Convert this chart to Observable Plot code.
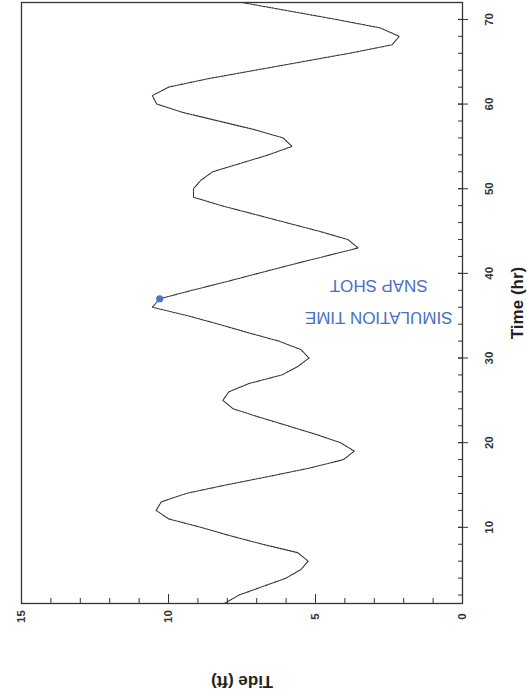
<!DOCTYPE html>
<html>
<head>
<meta charset="utf-8">
<script src="https://cdn.jsdelivr.net/npm/d3@7"></script>
<script src="https://cdn.jsdelivr.net/npm/@observablehq/plot@0.6"></script>
<style>
  html, body { margin: 0; padding: 0; background: #fff; }
  #chart svg { display: block; }
</style>
</head>
<body>
<div id="chart"></div>
<script>
// Time (hr) samples and tide (ft)
const timeHr = [1,2,3,4,5,6,7,8,9,10,11,12,13,14,15,16,17,18,19,20,21,22,23,24,25,26,27,28,29,30,31,32,33,34,35,36,37,38,39,40,41,42,43,44,45,46,47,48,49,50,51,52,53,54,55,56,57,58,59,60,61,62,63,64,65,66,67,68,69,70,71,72];
const tideFt = [8.1,7.6,6.8,6.0,5.5,5.25,5.6,6.8,7.9,8.9,10.0,10.42,10.25,9.4,8.05,6.6,5.2,4.05,3.68,4.15,5.0,5.95,6.9,7.8,8.15,7.95,7.25,6.15,5.6,5.22,5.5,6.25,7.3,8.3,9.35,10.55,10.3,9.2,8.05,6.95,5.85,4.7,3.55,3.9,4.9,6.0,7.1,8.2,9.15,9.15,8.9,8.5,7.55,6.6,5.8,6.1,7.1,8.3,9.5,10.4,10.55,10.0,8.65,7.05,5.45,3.85,2.4,2.15,2.8,4.3,5.9,7.5];

// snapshot marker
const snapTime = [37];
const snapTide = [10.3];

// annotation
const noteText = ["SIMULATION TIME\nSNAP SHOT"];
const noteTide = [2.85];
const noteTime = [36.1];

// axes
const tideTickLabels = [0, 5, 10, 15];
const tideMinorTicks = d3.range(0, 16, 1);
const timeTickLabels = [10, 20, 30, 40, 50, 60, 70];
const timeMinorTicks = d3.range(2, 72, 2);
const tideTitle = ["Tide (ft)"];
const timeTitle = ["Time (hr)"];

const W = 527, H = 696;
const mL = 21, mR = 65, mT = 2, mB = 93;
const innerW = W - mL - mR, innerH = H - mT - mB;

const series = timeHr.map((t, i) => ({time: t, tide: tideFt[i]}));
const snap = snapTime.map((t, i) => ({time: t, tide: snapTide[i]}));
const note = noteText.map((s, i) => ({text: s, tide: noteTide[i], time: noteTime[i]}));

const chart = Plot.plot({
  width: W,
  height: H,
  marginLeft: mL,
  marginRight: mR,
  marginTop: mT,
  marginBottom: mB,
  style: {fontFamily: "'Liberation Sans', Arial, sans-serif", background: "#fff", color: "#222"},
  x: {domain: [15, 0], axis: null},
  y: {domain: [1, 72], axis: null},
  marks: [
    // bottom ticks (inward)
    Plot.ruleX(tideMinorTicks, {x: d => d, insetTop: innerH - 5, stroke: "#333", strokeWidth: 1}),
    Plot.ruleX(tideTickLabels, {x: d => d, insetTop: innerH - 9, stroke: "#333", strokeWidth: 1}),
    // right ticks
    Plot.ruleY(timeMinorTicks, {y: d => d, insetLeft: innerW - 4, stroke: "#333", strokeWidth: 1}),
    Plot.ruleY(timeTickLabels, {y: d => d, insetLeft: innerW - 4, insetRight: -6, stroke: "#333", strokeWidth: 1}),
    Plot.frame({stroke: "#333", strokeWidth: 1.3}),
    // tide curve
    Plot.line(series, {x: "tide", y: "time", stroke: "#333", strokeWidth: 1.1, strokeDasharray: "2.2 1"}),
    // snapshot dot
    Plot.dot(snap, {x: "tide", y: "time", r: 3.6, fill: "#4a74c9", stroke: "none"}),
    // annotation (upside down)
    Plot.text(note, {x: "tide", y: "time", text: "text", rotate: 180, fill: "#4a6fc4",
      fontSize: 17, lineHeight: 1.9, textAnchor: "middle", lineAnchor: "middle"}),
    // tick labels
    Plot.text(tideTickLabels, {x: d => d, text: d => String(d), frameAnchor: "bottom", dy: 13, rotate: -90,
      textAnchor: "middle", lineAnchor: "middle", fontSize: 11.5, fontWeight: "bold", fill: "#333"}),
    Plot.text(timeTickLabels, {y: d => d, text: d => String(d), frameAnchor: "right", dx: 27, rotate: -90,
      textAnchor: "middle", lineAnchor: "middle", fontSize: 11.5, fontWeight: "bold", fill: "#333"}),
    // axis titles
    Plot.text(timeTitle, {text: d => d, frameAnchor: "right", dx: 55, rotate: -90,
      textAnchor: "middle", lineAnchor: "middle", fontSize: 17, fontWeight: "bold", fill: "#222"}),
    Plot.text(tideTitle, {text: d => d, frameAnchor: "bottom", dy: 78, rotate: 180,
      textAnchor: "middle", lineAnchor: "middle", fontSize: 17, fontWeight: "bold", fill: "#222"})
  ]
});
document.getElementById("chart").appendChild(chart);
</script>
</body>
</html>
